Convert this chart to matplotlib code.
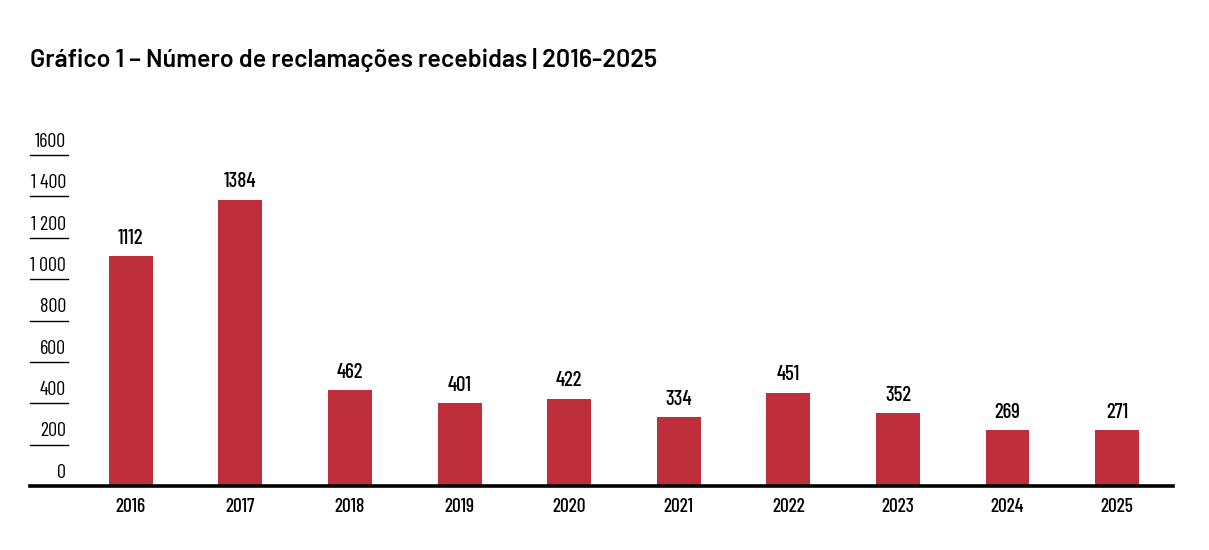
import matplotlib.pyplot as plt
from matplotlib import font_manager
from matplotlib.transforms import blended_transform_factory

years = ["2016", "2017", "2018", "2019", "2020", "2021", "2022", "2023", "2024", "2025"]
complaints = [1112, 1384, 462, 401, 422, 334, 451, 352, 269, 271]
y_ticks = [0, 200, 400, 600, 800, 1000, 1200, 1400, 1600]
y_tick_labels = ["0", "200", "400", "600", "800", "1 000", "1 200", "1 400", "1600"]
title = "Gráfico 1 – Número de reclamações recebidas | 2016-2025"

installed = {f.name for f in font_manager.fontManager.ttflist}
narrow = [f for f in ["Barlow Condensed", "Roboto Condensed", "DejaVu Sans"] if f in installed]
title_font = [f for f in ["Barlow", "Barlow Semi Condensed", "Roboto", "DejaVu Sans"] if f in installed]

bar_color = "#be2f3b"

fig = plt.figure(figsize=(12.09, 5.5), dpi=100)
W, H = 1209, 550
# axes box in pixels: left 30, right 1173, y=0 at 486, y=1600 at 155
ax = fig.add_axes([30 / W, (H - 486) / H, (1173 - 30) / W, (486 - 155) / H])

x = list(range(len(years)))
ax.bar(x, complaints, width=0.4, color=bar_color, zorder=2)

ax.set_xlim(-0.92, 9.51)
ax.set_ylim(0, 1600)

for s in ["top", "right", "left"]:
    ax.spines[s].set_visible(False)
ax.spines["bottom"].set_linewidth(2.6)
ax.spines["bottom"].set_color("black")

ax.set_xticks(x)
ax.set_xticklabels(years, fontsize=14, fontweight="medium", family=narrow)
ax.tick_params(axis="x", length=0, pad=9)
ax.set_yticks([])

# short tick lines under each y label
tr = blended_transform_factory(ax.transAxes, ax.transData)
line_end = (68 - 30) / (1173 - 30)
label_x = (66 - 30) / (1173 - 30)
for v, lab in zip(y_ticks, y_tick_labels):
    if v > 0:
        ax.plot([0, line_end], [v, v], color="black", lw=1.0, transform=tr, clip_on=False)
    ax.annotate(lab, xy=(label_x, v), xycoords=tr, xytext=(0, 3), textcoords="offset points",
                ha="right", va="bottom", fontsize=14.5, family=narrow, color="black")

for xi, v in zip(x, complaints):
    ax.annotate(str(v), xy=(xi, v), xytext=(0, 6), textcoords="offset points",
                ha="center", va="bottom", fontsize=15, fontweight="medium", family=narrow,
                color="black")

fig.text(30 / W, 1 - 60 / H, title, ha="left", va="center", fontsize=18,
         fontweight="semibold", family=title_font, color="black")

fig.savefig("out.png", dpi=100, facecolor="white")
